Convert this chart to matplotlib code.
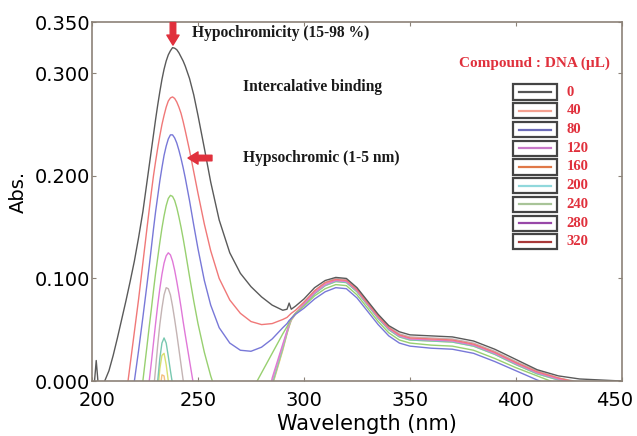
import numpy as np
import matplotlib
matplotlib.use("Agg")
import matplotlib.pyplot as plt
import matplotlib.transforms as mtransforms
from matplotlib.patches import Rectangle
from matplotlib.lines import Line2D

nan = np.nan

## data (nan = below the plotted range)
wavelength = [200, 201, 202, 203, 204, 206, 208, 210, 212, 214, 216, 218, 220, 222, 224,
              226, 227, 228, 229, 230, 231, 232, 233, 234, 235, 236, 237, 238, 239, 240,
              241, 242, 243, 244, 246, 248, 250, 253, 256, 260, 265, 270, 275, 280, 285,
              290, 292, 293, 294, 296, 300, 305, 310, 315, 320, 325, 330, 335, 340, 345,
              350, 360, 370, 380, 390, 400, 410, 420, 430, 440, 450]

abs_0 = [-0.02, -0.005, 0.02, -0.005, -0.02, 0.0, 0.01, 0.025, 0.042, 0.06, 0.078, 0.097, 0.117, 0.14, 0.165,
         0.195, 0.21, 0.225, 0.24, 0.255, 0.269, 0.282, 0.294, 0.304, 0.312, 0.318, 0.322, 0.325, 0.3245, 0.323,
         0.320, 0.316, 0.312, 0.307, 0.295, 0.279, 0.259, 0.227, 0.194, 0.157, 0.125, 0.105, 0.092, 0.082, 0.074,
         0.069, 0.070, 0.076, 0.070, 0.073, 0.080, 0.091, 0.098, 0.101, 0.100, 0.091, 0.078, 0.065, 0.054, 0.048,
         0.045, 0.044, 0.043, 0.039, 0.031, 0.021, 0.011, 0.005, 0.002, 0.001, 0.0]

abs_40 = [nan] * 10 + [-0.016, 0.016, 0.048, 0.08, 0.115,
          0.15, 0.167, 0.184, 0.2, 0.214, 0.227, 0.239, 0.25, 0.259, 0.267, 0.273, 0.276, 0.277, 0.2755, 0.272,
          0.267, 0.261, 0.253, 0.244, 0.225, 0.204, 0.183, 0.153, 0.127, 0.1, 0.079, 0.066, 0.058, 0.055, 0.056,
          0.060, 0.062, 0.064, 0.066, 0.069, 0.077, 0.088, 0.096, 0.099, 0.098, 0.089, 0.076, 0.063, 0.052, 0.045,
          0.042, 0.041, 0.040, 0.036, 0.028, 0.018, 0.009, 0.003, -0.002, -0.005, -0.006]

abs_80 = [nan] * 11 + [-0.03, 0.0, 0.03, 0.062,
          0.095, 0.112, 0.13, 0.148, 0.165, 0.18, 0.195, 0.208, 0.22, 0.229, 0.236, 0.24, 0.24, 0.237, 0.232,
          0.225, 0.217, 0.208, 0.198, 0.176, 0.152, 0.129, 0.098, 0.074, 0.052, 0.037, 0.030, 0.029, 0.033, 0.041,
          0.052, 0.056, 0.059, 0.061, 0.065, 0.071, 0.080, 0.087, 0.091, 0.090, 0.081, 0.068, 0.055, 0.044, 0.037,
          0.034, 0.032, 0.031, 0.027, 0.019, 0.010, 0.001, -0.007, -0.012, -0.015, -0.015]

abs_120 = [nan] * 13 + [-0.03, 0.0,
           0.035, 0.053, 0.07, 0.088, 0.105, 0.12, 0.135, 0.149, 0.161, 0.171, 0.178, 0.181, 0.18, 0.176, 0.169,
           0.16, 0.15, 0.139, 0.127, 0.102, 0.078, 0.056, 0.028, 0.005, -0.02, -0.04, -0.04, -0.011, 0.008, 0.027,
           0.046, 0.053, 0.057, 0.061, 0.066, 0.073, 0.083, 0.090, 0.094, 0.093, 0.084, 0.071, 0.058, 0.047, 0.040,
           0.037, 0.035, 0.034, 0.030, 0.022, 0.013, 0.005, -0.003, -0.008, -0.010, -0.010]

abs_160 = [nan] * 15 + [
           -0.012, 0.0, 0.018, 0.037, 0.056, 0.074, 0.09, 0.104, 0.115, 0.122, 0.125, 0.123, 0.117, 0.108, 0.097,
           0.085, 0.072, 0.058, 0.045, 0.02, -0.005, -0.03] + [nan] * 6 + [-0.05, 0.003,
           0.036, 0.049, 0.056, 0.061, 0.066, 0.075, 0.086, 0.094, 0.098, 0.097, 0.088, 0.075, 0.062, 0.051, 0.044,
           0.041, 0.040, 0.039, 0.035, 0.027, 0.017, 0.008, 0.002, -0.003, -0.006, -0.006]

abs_200 = [nan] * 18 + [-0.01, 0.012, 0.035, 0.055, 0.071, 0.084, 0.091, 0.09, 0.084, 0.073, 0.06, 0.046,
           0.031, 0.016, 0.001, -0.014, -0.05] + [nan] * 8 + [-0.05, 0.0,
           0.034, 0.048, 0.055, 0.060, 0.066, 0.076, 0.088, 0.096, 0.100, 0.099, 0.090, 0.077, 0.064, 0.053, 0.046,
           0.043, 0.042, 0.041, 0.037, 0.029, 0.019, 0.010, 0.003, -0.001, -0.004, -0.004]

abs_240 = [nan] * 19 + [-0.02, 0.0, 0.022, 0.037, 0.042, 0.037, 0.024, 0.01, -0.003, -0.02] + [nan] * 14 + [
           -0.05, -0.003,
           0.032, 0.047, 0.054, 0.060, 0.066, 0.074, 0.085, 0.093, 0.097, 0.096, 0.087, 0.074, 0.061, 0.050, 0.043,
           0.040, 0.039, 0.038, 0.034, 0.026, 0.016, 0.007, 0.001, -0.004, -0.006, -0.006]

abs_280 = [nan] * 20 + [-0.012, 0.012, 0.025, 0.027, 0.016, 0.0, -0.02] + [nan] * 16 + [
           -0.05, -0.004,
           0.031, 0.047, 0.054, 0.060, 0.066, 0.074, 0.085, 0.093, 0.097, 0.096, 0.087, 0.074, 0.061, 0.050, 0.043,
           0.040, 0.039, 0.038, 0.034, 0.026, 0.016, 0.007, 0.001, -0.004, -0.006, -0.006]

abs_320 = [nan] * 21 + [-0.01, 0.006, 0.005, -0.01] + [nan] * 18 + [
           -0.05, -0.005,
           0.030, 0.046, 0.053, 0.059, 0.065, 0.075, 0.086, 0.095, 0.098, 0.097, 0.088, 0.075, 0.062, 0.051, 0.044,
           0.041, 0.040, 0.039, 0.035, 0.027, 0.017, 0.008, 0.002, -0.003, -0.006, -0.006]

series = [abs_0, abs_40, abs_80, abs_120, abs_160, abs_200, abs_240, abs_280, abs_320]
dna_volume = ["0", "40", "80", "120", "160", "200", "240", "280", "320"]
line_colors = ["#5a5a5a", "#f07878", "#7878d8", "#98d070", "#e078d8",
               "#c4b4b4", "#78c8b0", "#d8e070", "#f4c080"]
legend_colors = ["#555555", "#f4a090", "#6a6ab8", "#c878c8", "#e07848",
                 "#90d8dc", "#a8c498", "#9848a8", "#a83838"]

y_ticks = [0.0, 0.1, 0.2, 0.3, 0.35]
x_ticks = [200, 250, 300, 350, 400, 450]

red = "#e0303c"
frame = "#8c8278"

##
fig = plt.figure(figsize=(6.37, 4.36), dpi=100)
ax = fig.add_axes([0.1444, 0.1261, 0.832, 0.8234])

for i in range(len(series) - 1, -1, -1):
    ax.plot(wavelength, series[i], color=line_colors[i], lw=1.0)

ax.set_xlim(200, 450)
ax.set_ylim(0, 0.35)
ax.set_xticks(x_ticks)
ax.set_yticks(y_ticks)
ax.set_yticklabels(["%.3f" % v for v in y_ticks])
for s in ax.spines.values():
    s.set_color(frame)
    s.set_linewidth(1.2)
ax.tick_params(direction="in", length=3, width=0.8, color=frame, top=True, right=True)
ax.tick_params(axis="x", labelsize=14, pad=7)
ax.tick_params(axis="y", labelsize=14, pad=1.5)

# end labels sit a little inside in the original
xlabels = ax.get_xticklabels()
xlabels[0].set_transform(xlabels[0].get_transform() + mtransforms.ScaledTranslation(4 / 72, 0, fig.dpi_scale_trans))
xlabels[-1].set_transform(xlabels[-1].get_transform() + mtransforms.ScaledTranslation(-5 / 72, 0, fig.dpi_scale_trans))

ax.set_xlabel("Wavelength (nm)", fontsize=15)
ax.xaxis.set_label_coords(0.519, -0.093)
ax.set_ylabel("Abs.", fontsize=14)
ax.yaxis.set_label_coords(-0.121, 0.526)

# annotations
serif = dict(family="Liberation Serif", weight="bold", color="#1a1a1a", fontsize=11.2)
ax.text(247.2, 0.339, "Hypochromicity (15-98 %)", ha="left", va="center", **serif)
ax.text(271.2, 0.2866, "Intercalative binding", ha="left", va="center", **serif)
ax.text(271.2, 0.2174, "Hypsochromic (1-5 nm)", ha="left", va="center", **serif)

arrow = dict(arrowstyle="simple,head_width=0.55,head_length=0.45,tail_width=0.25",
             color=red, shrinkA=0, shrinkB=0, mutation_scale=16)
ax.annotate("", xy=(238.2, 0.3275), xytext=(238.2, 0.3495), arrowprops=arrow)
ax.annotate("", xy=(245.3, 0.2174), xytext=(256.6, 0.2174), arrowprops=arrow)

# legend drawn by hand: boxed line samples
ax.text(0.834, 0.886, "Compound : DNA (\u00b5L)", transform=ax.transAxes, ha="center", va="center",
        family="Liberation Serif", weight="bold", color=red, fontsize=11)
y0 = 0.805
dy = 0.0522
for i in range(len(dna_volume)):
    y = y0 - i * dy
    ax.add_patch(Rectangle((0.794, y - 0.021), 0.083, 0.042, transform=ax.transAxes,
                           facecolor="white", edgecolor="#444444", lw=1.6, zorder=5))
    ax.add_line(Line2D([0.806, 0.866], [y, y], transform=ax.transAxes,
                       color=legend_colors[i], lw=1.6, zorder=6))
    ax.text(0.896, y, dna_volume[i], transform=ax.transAxes, ha="left", va="center",
            family="Liberation Serif", weight="bold", color=red, fontsize=10.5)

fig.savefig("out.png", dpi=100)
